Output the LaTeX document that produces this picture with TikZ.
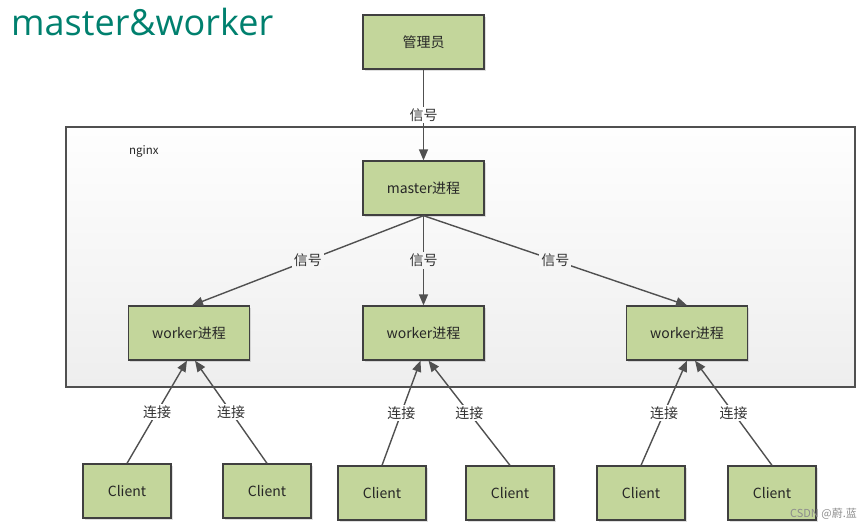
\documentclass[tikz,border=0pt]{standalone}
\usepackage{fontspec}
\setmainfont{Noto Sans CJK SC}
\newfontfamily\titlefont{Open Sans}
\usetikzlibrary{arrows.meta,shadows}

\definecolor{boxgreen}{RGB}{195,214,155}
\definecolor{boxline}{RGB}{64,64,64}
\definecolor{linegray}{RGB}{80,80,80}
\definecolor{titleteal}{RGB}{0,128,110}
\definecolor{nginxtop}{RGB}{254,254,254}
\definecolor{nginxbot}{RGB}{238,238,238}
\definecolor{nginxfill}{RGB}{246,246,246}

\tikzset{
  proc/.style={draw=boxline, line width=1.3pt, fill=boxgreen, inner sep=0pt,
    minimum width=121pt, minimum height=54pt, text=black!85,
    font=\fontsize{14}{16}\selectfont,
    drop shadow={shadow xshift=1.5pt, shadow yshift=-1.5pt, opacity=0.25}},
  client/.style={proc, minimum width=88pt},
  sig/.style={-{Triangle[length=11pt,width=9pt]}, draw=linegray, line width=1.4pt},
  lbl/.style={fill=white, inner sep=2pt, text=black!80, font=\fontsize{14}{16}\selectfont},
  inlbl/.style={lbl, fill=nginxfill}
}

\begin{document}
\begin{tikzpicture}[x=1pt,y=-1pt]
  \useasboundingbox (0,0) rectangle (864,531);

  \node (title) [anchor=base west, inner sep=0pt, text=titleteal,
    font=\titlefont\fontsize{36}{40}\selectfont] at (11,35) {master\&worker};

  % nginx frame
  \node (nginx) [draw=linegray, line width=1.3pt, top color=nginxtop, bottom color=nginxbot,
    minimum width=789pt, minimum height=260pt] at (460.5,257) {};
  \node (nginxlbl) [anchor=west, inner sep=0pt, text=black!85,
    font=\fontsize{11.5}{13}\selectfont] at (129,151) {nginx};

  \begin{scope}[every node/.style={proc}]
    \node (admin) at (423.5,42) {管理员};
    \node (master) at (423.5,188) {master进程};

    \node (w1) at (189,333) {worker进程};
    \node (w2) at (423.5,333) {worker进程};
    \node (w3) at (687,333) {worker进程};
  \end{scope}

  \begin{scope}[every node/.style={client}]
    \node (c1) at (127,491) {Client};
    \node (c2) at (267,491) {Client};
    \node (c3) at (382,493) {Client};
    \node (c4) at (510,493) {Client};
    \node (c5) at (641,493) {Client};
    \node (c6) at (772,493) {Client};
  \end{scope}

  \path (admin) edge [sig] node[lbl] {信号} (master);
  \path (master.south) edge [sig] node[inlbl] {信号} ([xshift=3pt]w1.north);
  \path (master.south) edge [sig] node[inlbl] {信号} (w2.north);
  \path (master.south) edge [sig] node[inlbl] {信号} (w3.north);

  \path (c1.north) edge [sig] node[lbl] {连接} ([xshift=-2pt]w1.south);
  \path (c2.north) edge [sig] node[lbl] {连接} ([xshift=6pt]w1.south);
  \path (c3.north) edge [sig] node[lbl] {连接} ([xshift=-3pt]w2.south);
  \path (c4.north) edge [sig] node[lbl] {连接} ([xshift=5pt]w2.south);
  \path (c5.north) edge [sig] node[lbl] {连接} (w3.south);
  \path (c6.north) edge [sig] node[lbl] {连接} ([xshift=8pt]w3.south);

  \node (mark) [anchor=east, inner sep=0pt, text=black!45,
    font=\fontsize{11}{13}\selectfont] at (857,514) {CSDN @蔚.蓝};
\end{tikzpicture}
\end{document}
